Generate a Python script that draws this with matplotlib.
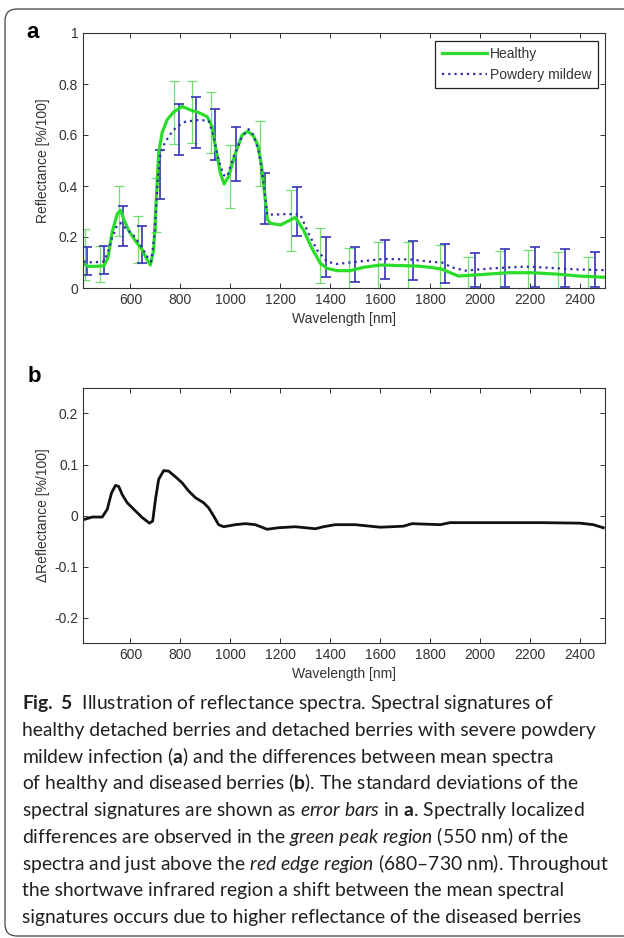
import numpy as np
import matplotlib.pyplot as plt
from matplotlib.patches import FancyBboxPatch
from matplotlib.ticker import FormatStrFormatter

plt.rcParams['font.family'] = ['Liberation Sans', 'DejaVu Sans']
plt.rcParams['axes.unicode_minus'] = False
plt.rcParams['mathtext.fontset'] = 'custom'
plt.rcParams['mathtext.rm'] = 'Lato'
plt.rcParams['mathtext.it'] = 'Lato:italic'
plt.rcParams['mathtext.bf'] = 'Lato:bold'

# ---- panel a: mean spectra ----
healthy_nm = [412, 430, 460, 494, 510, 527, 547, 560, 573, 593, 620, 647, 667, 680, 693,
              703, 713, 727, 747, 773, 807, 840, 873, 907, 927, 940, 960, 975, 993, 1020,
              1047, 1070, 1093, 1110, 1125, 1140, 1148, 1160, 1200, 1227, 1260, 1293, 1327,
              1360, 1387, 1427, 1480, 1533, 1600, 1680, 1747, 1800, 1847, 1880, 1913, 1980,
              2113, 2207, 2313, 2393, 2500]
healthy_refl = [0.097, 0.085, 0.085, 0.087, 0.12, 0.22, 0.29, 0.305, 0.27, 0.225, 0.185, 0.15,
                0.11, 0.09, 0.15, 0.34, 0.53, 0.61, 0.66, 0.69, 0.712, 0.698, 0.688, 0.672,
                0.633, 0.555, 0.45, 0.408, 0.437, 0.528, 0.6, 0.615, 0.595, 0.56, 0.48, 0.345,
                0.27, 0.254, 0.247, 0.26, 0.277, 0.227, 0.155, 0.097, 0.077, 0.068, 0.068,
                0.081, 0.09, 0.088, 0.086, 0.081, 0.074, 0.06, 0.047, 0.051, 0.06, 0.06,
                0.054, 0.047, 0.042]

mildew_nm = [412, 447, 493, 510, 527, 547, 560, 567, 587, 607, 640, 667, 683, 697, 710, 720,
             740, 767, 787, 820, 873, 913, 933, 953, 973, 987, 1013, 1047, 1073, 1093, 1115,
             1135, 1147, 1187, 1227, 1280, 1313, 1347, 1387, 1427, 1507, 1613, 1720, 1800,
             1847, 1887, 1940, 2047, 2180, 2247, 2380, 2500]
mildew_refl = [0.104, 0.10, 0.104, 0.14, 0.2, 0.247, 0.255, 0.25, 0.227, 0.214, 0.168, 0.123,
               0.104, 0.214, 0.437, 0.528, 0.574, 0.613, 0.633, 0.652, 0.659, 0.656, 0.594,
               0.502, 0.443, 0.437, 0.515, 0.594, 0.623, 0.6, 0.53, 0.40, 0.288, 0.288, 0.29,
               0.288, 0.214, 0.149, 0.103, 0.094, 0.103, 0.114, 0.112, 0.103, 0.10, 0.081,
               0.068, 0.077, 0.084, 0.081, 0.073, 0.07]

# standard deviation bars, lower and upper ends
healthy_err_nm = [418, 480, 553, 631, 704, 776, 847, 924, 997, 1120, 1243, 1357, 1476, 1593,
                  1713, 1840, 1953, 2080, 2193, 2313, 2433]
healthy_err_lo = [0.03, 0.025, 0.205, 0.098, 0.22, 0.565, 0.57, 0.53, 0.315, 0.40, 0.145,
                  0.021, -0.01, -0.01, -0.01, -0.01, -0.01, -0.01, -0.01, -0.01, -0.01]
healthy_err_hi = [0.23, 0.164, 0.40, 0.282, 0.43, 0.81, 0.81, 0.77, 0.56, 0.655, 0.384,
                  0.234, 0.155, 0.181, 0.181, 0.168, 0.123, 0.145, 0.149, 0.143, 0.123]

mildew_err_nm = [427, 493, 569, 647, 720, 796, 863, 937, 1024, 1140, 1267, 1384, 1500, 1620,
                 1733, 1860, 1980, 2100, 2220, 2340, 2460]
mildew_err_lo = [0.052, 0.054, 0.163, 0.098, 0.35, 0.52, 0.55, 0.50, 0.42, 0.25, 0.204, 0.045,
                 0.025, 0.034, 0.031, 0.021, 0.003, 0.005, 0.005, 0.005, 0.003]
mildew_err_hi = [0.159, 0.164, 0.32, 0.243, 0.54, 0.72, 0.75, 0.70, 0.63, 0.45, 0.397, 0.201,
                 0.159, 0.188, 0.184, 0.171, 0.136, 0.152, 0.159, 0.152, 0.141]

# ---- panel b: difference healthy - diseased ----
delta_nm = [413, 447, 487, 507, 524, 540, 553, 567, 587, 620, 647, 676, 689, 700, 713, 733,
            753, 780, 807, 833, 860, 893, 913, 933, 953, 973, 1020, 1060, 1100, 1147, 1193,
            1260, 1340, 1373, 1420, 1500, 1600, 1693, 1727, 1840, 1880, 2040, 2240, 2400,
            2453, 2493]
delta_refl = [-0.008, -0.003, -0.003, 0.012, 0.044, 0.059, 0.057, 0.041, 0.025, 0.009, -0.004,
              -0.015, -0.011, 0.031, 0.071, 0.088, 0.087, 0.076, 0.064, 0.048, 0.035, 0.025,
              0.015, -0.001, -0.018, -0.022, -0.018, -0.016, -0.018, -0.027, -0.024, -0.022,
              -0.026, -0.022, -0.018, -0.018, -0.023, -0.021, -0.016, -0.018, -0.014, -0.014,
              -0.014, -0.015, -0.018, -0.024]

xticks = [600, 800, 1000, 1200, 1400, 1600, 1800, 2000, 2200, 2400]

caption = [
    r'$\mathbf{Fig.\ 5}$  Illustration of reflectance spectra. Spectral signatures of',
    'healthy detached berries and detached berries with severe powdery',
    r'mildew infection ($\mathbf{a}$) and the differences between mean spectra',
    r'of healthy and diseased berries ($\mathbf{b}$). The standard deviations of the',
    r'spectral signatures are shown as $\mathit{error\ bars}$ in $\mathbf{a}$. Spectrally localized',
    r'differences are observed in the $\mathit{green\ peak\ region}$ (550 nm) of the',
    r'spectra and just above the $\mathit{red\ edge\ region}$ (680–730 nm). Throughout',
    'the shortwave infrared region a shift between the mean spectral',
    'signatures occurs due to higher reflectance of the diseased berries',
]

W, H = 624, 938
fig = plt.figure(figsize=(W / 100, H / 100), dpi=100)

def style(ax):
    ax.set_xlim(410, 2500)
    ax.set_xticks(xticks)
    ax.tick_params(direction='in', top=True, right=True, length=3.6, width=0.7,
                   color='#333333', labelcolor='#333333', labelsize=10, pad=3.5)
    for s in ax.spines.values():
        s.set_color('#333333')
        s.set_linewidth(0.8)
    ax.set_xlabel('Wavelength [nm]', fontsize=10, color='#333333')
    ax.xaxis.set_label_coords(0.5, -0.095)
    ax.yaxis.set_label_coords(-0.063, 0.5)

ax1 = fig.add_axes([83 / W, 1 - 288 / H, 522 / W, 255 / H])
ax1.errorbar(healthy_err_nm, (np.array(healthy_err_lo) + np.array(healthy_err_hi)) / 2,
             yerr=(np.array(healthy_err_hi) - np.array(healthy_err_lo)) / 2,
             fmt='none', ecolor='#72de72', elinewidth=0.9, capsize=3.6, capthick=0.9)
ax1.errorbar(mildew_err_nm, (np.array(mildew_err_lo) + np.array(mildew_err_hi)) / 2,
             yerr=(np.array(mildew_err_hi) - np.array(mildew_err_lo)) / 2,
             fmt='none', ecolor='#3535b8', elinewidth=1.2, capsize=3.6, capthick=1.2)
ax1.plot(healthy_nm, healthy_refl, color='#2bdc2b', lw=2.3, label='Healthy')
ax1.plot(mildew_nm, mildew_refl, color='#3030a8', lw=1.6, ls=(0, (1, 1.8)), label='Powdery mildew')
ax1.set_ylim(0, 1)
ax1.set_yticks([0, 0.2, 0.4, 0.6, 0.8, 1])
ax1.yaxis.set_major_formatter(FormatStrFormatter('%g'))
style(ax1)
ax1.set_ylabel('Reflectance [%/100]', fontsize=10, color='#333333')
leg = ax1.legend(loc='upper right', bbox_to_anchor=(0.9866, 0.9686), borderaxespad=0,
                 fancybox=False, framealpha=1, edgecolor='#222222', fontsize=10,
                 handlelength=3.3, handletextpad=0.2, labelspacing=0.5, borderpad=0.45)
leg.get_frame().set_linewidth(0.9)
for t in leg.get_texts():
    t.set_color('#333333')

ax2 = fig.add_axes([83 / W, 1 - 643 / H, 522 / W, 255 / H])
ax2.plot(delta_nm, delta_refl, color='#111111', lw=2.0)
ax2.set_ylim(-0.25, 0.25)
ax2.set_yticks([-0.2, -0.1, 0, 0.1, 0.2])
ax2.yaxis.set_major_formatter(FormatStrFormatter('%g'))
style(ax2)
ax2.set_ylabel('ΔReflectance [%/100]', fontsize=10, color='#333333')

# panel letters
fig.text(33 / W, 1 - 33 / H, 'a', fontsize=16, fontweight='bold', ha='center', va='center')
fig.text(34 / W, 1 - 377 / H, 'b', fontsize=16, fontweight='bold', ha='center', va='center')

# caption
for i, line in enumerate(caption):
    y = 703 + i * 26.75 + 6
    fig.text(22 / W, 1 - y / H, line, fontsize=13.9, family='Lato', color='#231f20',
             ha='left', va='baseline')

# rounded frame around the figure
frame = FancyBboxPatch((0.05, 0.02), 6.5, 9.27, boxstyle='round,pad=0,rounding_size=0.12',
                       transform=fig.dpi_scale_trans, fill=False, edgecolor='#444444', lw=0.9)
fig.patches.append(frame)

fig.savefig('out.png', dpi=100)
